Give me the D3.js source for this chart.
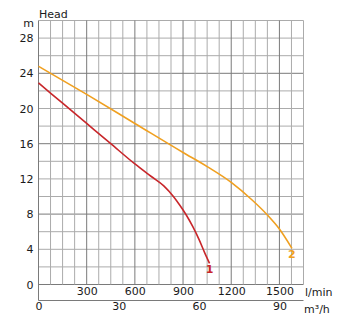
<!DOCTYPE html>
<html><head><meta charset="utf-8">
<script src="https://cdn.jsdelivr.net/npm/d3@7"></script>
<style>
html,body{margin:0;padding:0;background:#fff;}
svg{display:block;font-family:"DejaVu Sans",sans-serif;}
</style></head>
<body>
<svg id="c" width="362" height="327"></svg>
<script>
// Data (flow in l/min, head in m)
const curve1Flow = [0, 150, 300, 450, 600, 700, 780, 840, 880, 920, 960, 1000, 1035, 1065];
const curve1Head = [22.9, 20.6, 18.3, 16.0, 13.7, 12.3, 11.2, 10.0, 9.0, 7.9, 6.6, 5.1, 3.6, 2.4];
const curve2Flow = [0, 300, 600, 900, 1050, 1200, 1330, 1425, 1500, 1578];
const curve2Head = [24.8, 21.6, 18.3, 15.0, 13.4, 11.6, 9.6, 7.9, 6.3, 4.1];
const seriesNames = ["1", "2"];
const seriesColors = ["#c8262a", "#f0a020"];
const yTicks = [0, 4, 8, 12, 16, 20, 24, 28];
const xTicks = [300, 600, 900, 1200, 1500];
const x2Ticks = [0, 30, 60, 90];

const svg = d3.select("#c");
const x = d3.scaleLinear().domain([0, 1650]).range([38.5, 303.5]);
const x2 = d3.scaleLinear().domain([0, 99]).range([38.5, 303.5]);
const y = d3.scaleLinear().domain([0, 30]).range([284.5, 20.5]);

// grid
const g = svg.append("g");
const hVals = d3.range(0, 31, 2);
const vVals = d3.range(75, 1651, 75);
g.selectAll("line.h").data(hVals).join("line")
  .attr("x1", x(0)).attr("x2", x(1650))
  .attr("y1", d => y(d)).attr("y2", d => y(d))
  .attr("stroke", d => (d % 8 === 0 ? "#7a7a7a" : "#ababab"))
  .attr("stroke-width", 1);
g.selectAll("line.v").data(vVals).join("line")
  .attr("x1", d => x(d)).attr("x2", d => x(d))
  .attr("y1", y(0)).attr("y2", y(30))
  .attr("stroke", d => (d % 300 === 0 ? "#7a7a7a" : "#ababab"))
  .attr("stroke-width", 1);

// left axis line down to secondary axis
svg.append("line").attr("x1", x(0)).attr("x2", x(0))
  .attr("y1", y(30)).attr("y2", 300.5)
  .attr("stroke", "#7a7a7a");

const fmt = d3.format("d");

// y axis labels
const yAxis = svg.append("g").attr("transform", `translate(${x(0)},0)`)
  .call(d3.axisLeft(y).tickValues(yTicks).tickFormat(fmt).tickSize(0).tickPadding(5));
yAxis.select(".domain").remove();
yAxis.selectAll("text").attr("font-size", 11).attr("fill", "#1a1a1a")
  .attr("font-family", "DejaVu Sans");

// x axis (l/min) labels
const xAxis = svg.append("g").attr("transform", `translate(0,${y(0)})`)
  .call(d3.axisBottom(x).tickValues(xTicks).tickFormat(fmt).tickSize(0).tickPadding(3));
xAxis.select(".domain").remove();
xAxis.selectAll("text").attr("font-size", 11).attr("fill", "#1a1a1a")
  .attr("font-family", "DejaVu Sans");

// secondary axis (m3/h)
const x2Axis = svg.append("g").attr("transform", `translate(0,300.5)`)
  .call(d3.axisBottom(x2).tickValues(x2Ticks).tickFormat(fmt).tickSize(0).tickPadding(2));
x2Axis.select(".domain").attr("stroke", "#7a7a7a").attr("d", `M${x(0)},0H${x(1650)}`);
x2Axis.selectAll("text").attr("font-size", 11).attr("fill", "#1a1a1a")
  .attr("font-family", "DejaVu Sans");

// axis titles
svg.append("text").attr("x", 39).attr("y", 18).text("Head")
  .attr("font-size", 11).attr("fill", "#1a1a1a");
svg.append("text").attr("x", 34).attr("y", 27).attr("text-anchor", "end").text("m")
  .attr("font-size", 11).attr("fill", "#1a1a1a");
svg.append("text").attr("x", 305).attr("y", 296).text("l/min")
  .attr("font-size", 11).attr("fill", "#1a1a1a");
svg.append("text").attr("x", 304).attr("y", 313).text("m³/h")
  .attr("font-size", 11).attr("fill", "#1a1a1a");

// curves
const series = [
  curve1Flow.map((f, i) => [f, curve1Head[i]]),
  curve2Flow.map((f, i) => [f, curve2Head[i]])
];
const line = d3.line().x(d => x(d[0])).y(d => y(d[1])).curve(d3.curveMonotoneX);
series.forEach((s, i) => {
  svg.append("path").datum(s).attr("d", line)
    .attr("fill", "none").attr("stroke", seriesColors[i]).attr("stroke-width", 1.6);
  const last = s[s.length - 1];
  svg.append("text").attr("x", x(last[0])).attr("y", y(last[1]) + 10)
    .attr("text-anchor", "middle").attr("font-weight", "bold").attr("font-size", 11)
    .attr("fill", seriesColors[i]).text(seriesNames[i]);
});
</script>
</body></html>
